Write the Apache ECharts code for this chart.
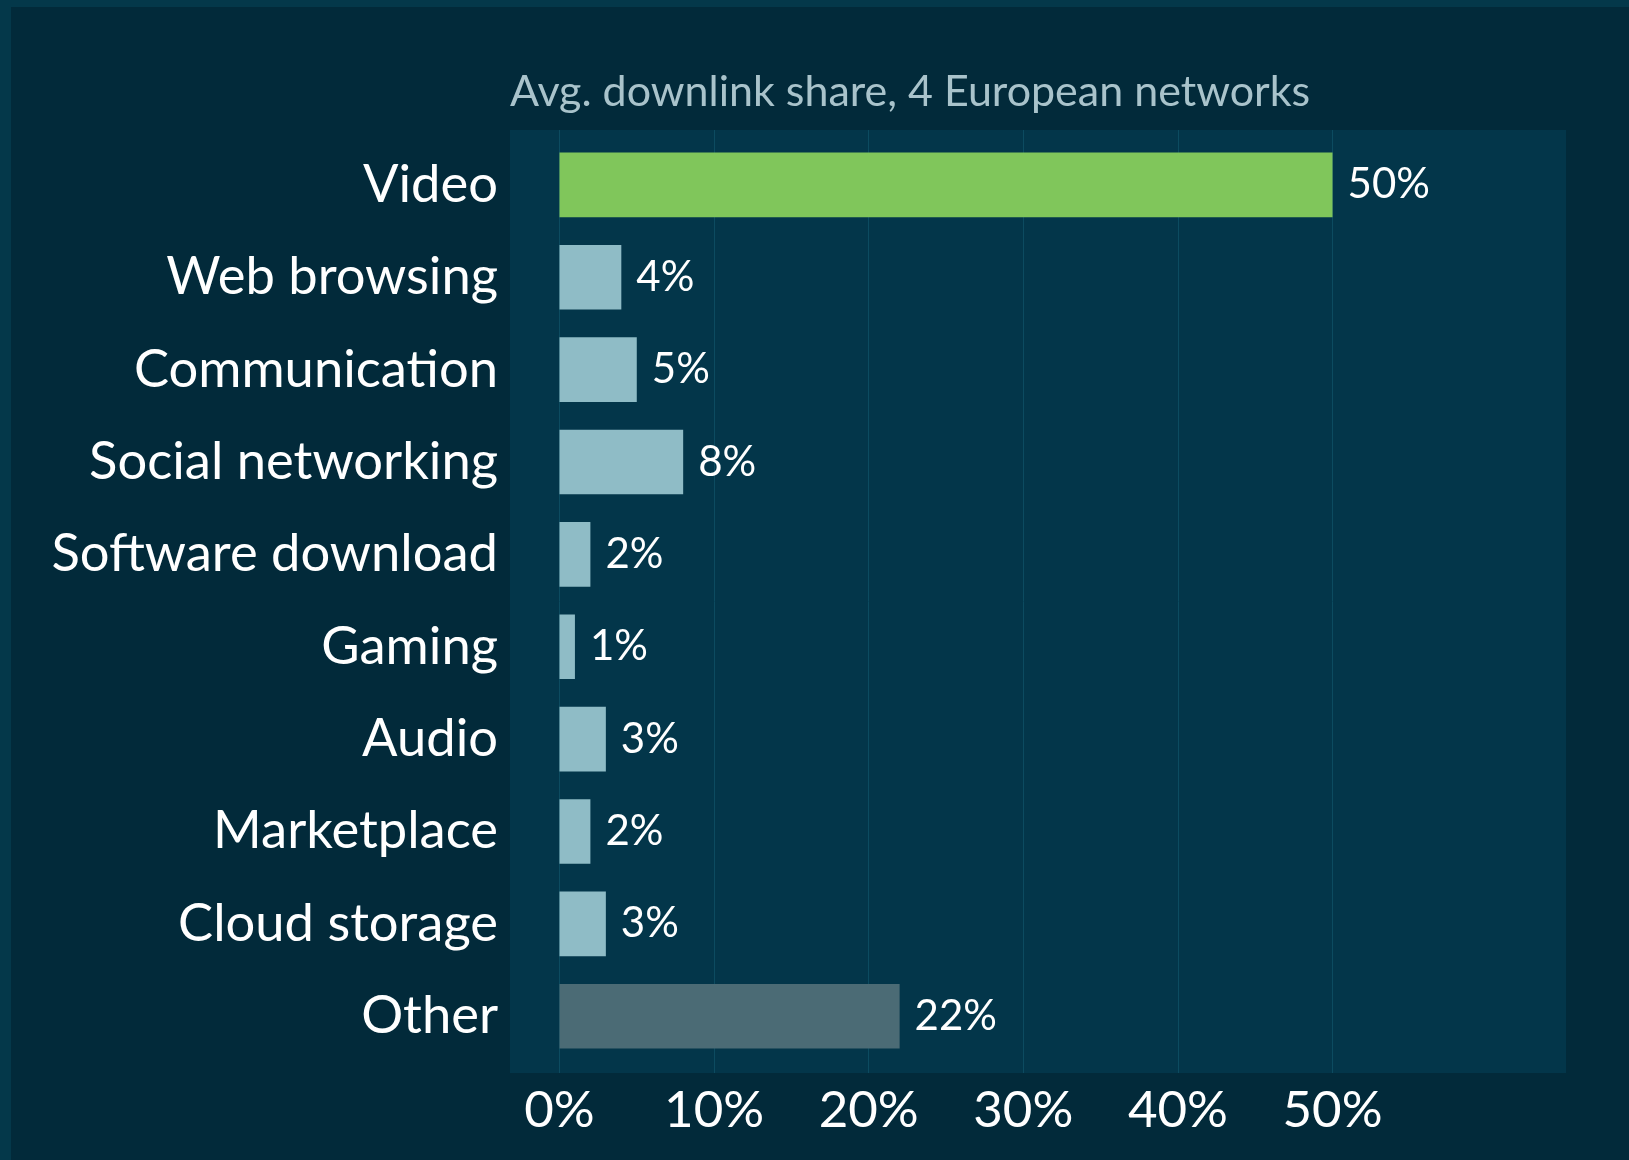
<!DOCTYPE html>
<html><head><meta charset="utf-8">
<script src="https://cdn.jsdelivr.net/npm/echarts@6/dist/echarts.min.js"></script>
<style>
html,body{margin:0;padding:0;background:#04384a;width:1629px;height:1160px;overflow:hidden}
#c{position:absolute;left:11px;top:7px;width:1618px;height:1153px}
</style></head><body><div id="c"></div>
<script>
const categories = ['Video','Web browsing','Communication','Social networking','Software download','Gaming','Audio','Marketplace','Cloud storage','Other'];
const values = [50,4,5,8,2,1,3,2,3,22];
const barColors = ['#80c65b','#8fbcc6','#8fbcc6','#8fbcc6','#8fbcc6','#8fbcc6','#8fbcc6','#8fbcc6','#8fbcc6','#4b6b75'];
const tickValues = [0,10,20,30,40,50];
const titleText = 'Avg. downlink share, 4 European networks';

const FONT = 'Lato';
const xMin = -3.2, xMax = 65.1;
const chart = echarts.init(document.getElementById('c'));
chart.setOption({
  backgroundColor: '#022a3a',
  animation: false,
  title: {
    text: titleText, left: 499, top: 64, padding: 0,
    textStyle: {color: '#a9c3cb', fontFamily: FONT, fontSize: 43, fontWeight: 'normal'}
  },
  grid: [
    {left: 499, right: 63, top: 123, bottom: 87, show: true, backgroundColor: '#03364a', borderWidth: 0},
    {left: 499, right: 63, top: 131.7, bottom: 97.6}
  ],
  xAxis: [
    {gridIndex: 0, type: 'value', min: xMin, max: xMax,
      axisLine: {show: false}, axisTick: {show: false, customValues: tickValues},
      splitLine: {show: true, lineStyle: {color: '#0c4b60', width: 1}},
      axisLabel: {customValues: tickValues, formatter: v => v + '%', color: '#ffffff', fontFamily: FONT, fontSize: 51, margin: 12}
    },
    {gridIndex: 1, type: 'value', min: xMin, max: xMax, show: false, splitLine: {show: false}}
  ],
  yAxis: [
    {gridIndex: 0, type: 'category', data: categories, show: false},
    {gridIndex: 1, type: 'category', data: categories, inverse: true,
      axisLine: {show: false}, axisTick: {show: false},
      axisLabel: {color: '#ffffff', fontFamily: FONT, fontSize: 52.5, margin: 12}
    }
  ],
  series: [{
    type: 'bar', xAxisIndex: 1, yAxisIndex: 1,
    data: values.map((v, i) => ({value: v, itemStyle: {color: barColors[i]}})),
    barCategoryGap: '30%',
    label: {show: true, position: 'right', distance: 15, formatter: p => p.value + '%', color: '#ffffff', fontFamily: FONT, fontSize: 42}
  }]
});
</script></body></html>
